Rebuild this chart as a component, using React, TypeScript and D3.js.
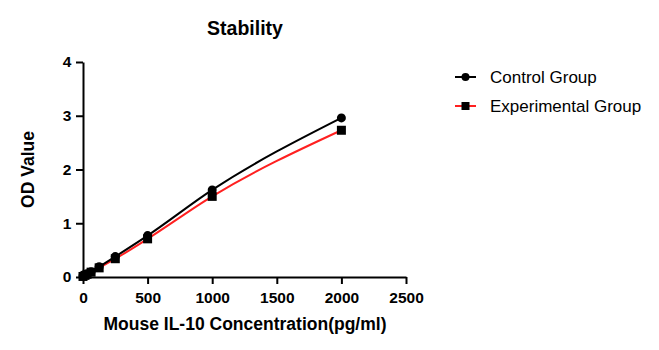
import { useEffect, useRef } from 'react';
import * as d3 from 'd3';

const concentrations = [0, 15.6, 31.25, 62.5, 125, 250, 500, 1000, 2000];
const controlOD = [0.02, 0.04, 0.06, 0.1, 0.19, 0.38, 0.77, 1.62, 2.96];
const experimentalOD = [0.01, 0.03, 0.05, 0.09, 0.17, 0.34, 0.71, 1.5, 2.73];
const xTicks = [0, 500, 1000, 1500, 2000, 2500];
const yTicks = [0, 1, 2, 3, 4];

const series = [
  { name: 'Control Group', values: controlOD, color: '#000000', marker: 'circle' },
  { name: 'Experimental Group', values: experimentalOD, color: '#ff2020', marker: 'square' },
];

export default function App() {
  const ref = useRef<SVGSVGElement>(null);

  useEffect(() => {
    if (!ref.current) return;
    const svg = d3.select(ref.current);
    svg.selectAll('*').remove();

    const font = '"Liberation Sans", Arial, sans-serif';
    const x = d3.scaleLinear().domain([0, 2500]).range([83, 406]);
    const y = d3.scaleLinear().domain([0, 4]).range([277, 62]);

    // axes
    const xAxis = svg
      .append('g')
      .attr('transform', `translate(0,${y(0)})`)
      .call(d3.axisBottom(x).tickValues(xTicks).tickFormat(d3.format('d')).tickSize(7).tickSizeOuter(0));
    const yAxis = svg
      .append('g')
      .attr('transform', `translate(${x(0)},0)`)
      .call(d3.axisLeft(y).tickValues(yTicks).tickFormat(d3.format('d')).tickSize(7).tickSizeOuter(0));

    [xAxis, yAxis].forEach((a) => {
      a.select('.domain').attr('stroke', '#000').attr('stroke-width', 2);
      a.selectAll('.tick line').attr('stroke', '#000').attr('stroke-width', 2);
      a.selectAll('.tick text')
        .attr('fill', '#000')
        .attr('font-family', font)
        .attr('font-weight', 'bold')
        .attr('font-size', 15.5);
    });
    xAxis.selectAll('.tick text').attr('dy', '1.05em');
    yAxis.selectAll('.tick text').attr('dx', '-0.1em');

    const line = d3
      .line<number>()
      .x((_, i) => x(concentrations[i]))
      .y((d) => y(d))
      .curve(d3.curveMonotoneX);

    // draw experimental first so control sits on top
    [...series].reverse().forEach((s) => {
      svg
        .append('path')
        .datum(s.values)
        .attr('d', line)
        .attr('fill', 'none')
        .attr('stroke', s.color)
        .attr('stroke-width', 2);
    });
    [...series].reverse().forEach((s) => {
      const g = svg.append('g');
      s.values.forEach((v, i) => {
        if (s.marker === 'circle') {
          g.append('circle').attr('cx', x(concentrations[i])).attr('cy', y(v)).attr('r', 4.5).attr('fill', '#000');
        } else {
          g.append('rect')
            .attr('x', x(concentrations[i]) - 4.5)
            .attr('y', y(v) - 4.5)
            .attr('width', 9)
            .attr('height', 9)
            .attr('fill', '#000');
        }
      });
    });

    // title
    svg
      .append('text')
      .attr('x', 245)
      .attr('y', 35)
      .attr('text-anchor', 'middle')
      .attr('font-family', font)
      .attr('font-weight', 'bold')
      .attr('font-size', 19.5)
      .text('Stability');

    svg
      .append('text')
      .attr('x', 245)
      .attr('y', 330)
      .attr('text-anchor', 'middle')
      .attr('font-family', font)
      .attr('font-weight', 'bold')
      .attr('font-size', 17.5)
      .text('Mouse IL-10 Concentration(pg/ml)');

    svg
      .append('text')
      .attr('transform', `translate(34,${(y(0) + y(4)) / 2}) rotate(-90)`)
      .attr('text-anchor', 'middle')
      .attr('font-family', font)
      .attr('font-weight', 'bold')
      .attr('font-size', 17.5)
      .text('OD Value');

    // legend
    series.forEach((s, i) => {
      const ly = 77 + i * 29;
      const g = svg.append('g');
      g.append('line')
        .attr('x1', 455)
        .attr('x2', 476)
        .attr('y1', ly)
        .attr('y2', ly)
        .attr('stroke', s.color)
        .attr('stroke-width', 2);
      if (s.marker === 'circle') {
        g.append('circle').attr('cx', 465.5).attr('cy', ly).attr('r', 4).attr('fill', '#000');
      } else {
        g.append('rect').attr('x', 461.5).attr('y', ly - 4).attr('width', 8).attr('height', 8).attr('fill', '#000');
      }
      g.append('text')
        .attr('x', 490)
        .attr('y', ly + 6)
        .attr('font-family', font)
        .attr('font-size', 17)
        .attr('fill', '#000')
        .text(s.name);
    });
  }, []);

  return <svg ref={ref} width={659} height={350} style={{ position: 'absolute', left: 0, top: 0 }} />;
}
